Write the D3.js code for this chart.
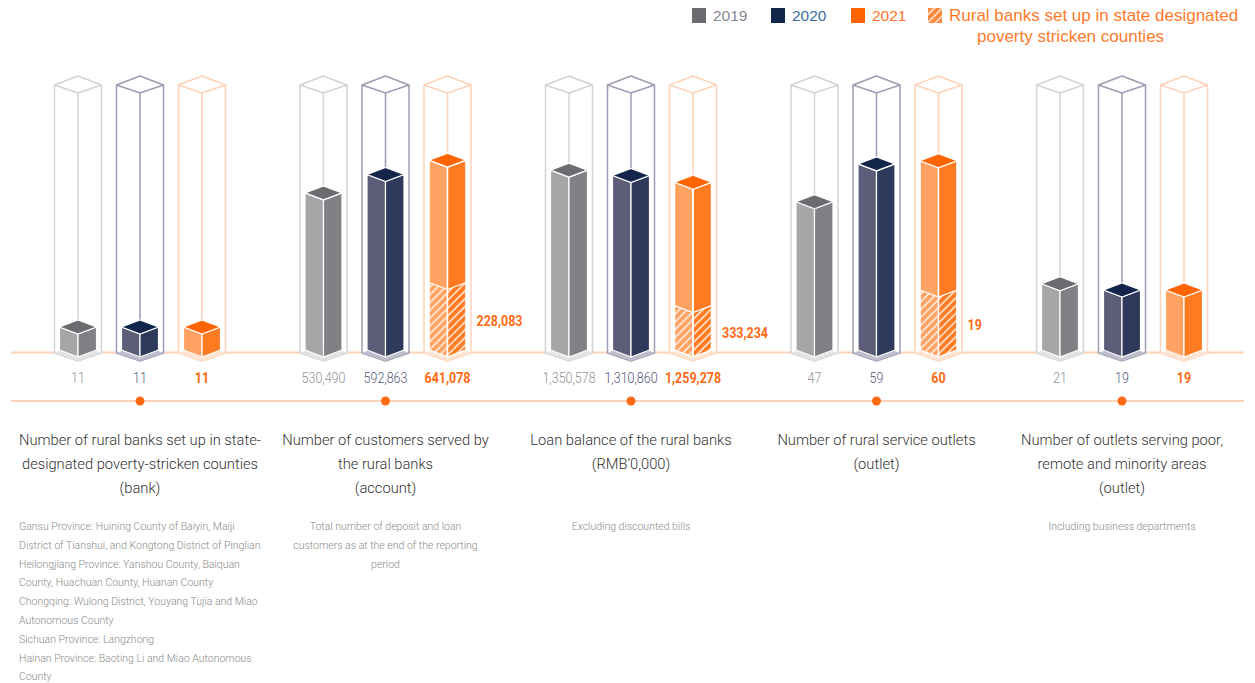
<!DOCTYPE html>
<html>
<head>
<meta charset="utf-8">
<script src="https://cdn.jsdelivr.net/npm/d3@7"></script>
<style>
  html, body { margin: 0; padding: 0; background: #fff; }
  svg { display: block; }
</style>
</head>
<body>
<svg id="chart" width="1255" height="683"></svg>
<script>
// ---- data ----
const categories = ["banks", "customers", "loans", "outlets", "remoteOutlets"];
const years = ["2019", "2020", "2021"];
const values2019 = [11, 530490, 1350578, 47, 21];
const values2020 = [11, 592863, 1310860, 59, 19];
const values2021 = [11, 641078, 1259278, 60, 19];
// 2021 portion from rural banks in state-designated poverty-stricken counties
const hatched2021 = [null, 228083, 333234, 19, null];
// top of each group's outline prism (per-metric scale ceiling)
const scaleMax = [127, 895000, 1990000, 84, 84];

const titleLines = [
  ["Number of rural banks set up in state-", "designated poverty-stricken counties", "(bank)"],
  ["Number of customers served by", "the rural banks", "(account)"],
  ["Loan balance of the rural banks", "(RMB\u20190,000)"],
  ["Number of rural service outlets", "(outlet)"],
  ["Number of outlets serving poor,", "remote and minority areas", "(outlet)"]
];
const noteLines = [
  ["Gansu Province: Huining County of Baiyin, Maiji",
   "District of Tianshui, and Kongtong District of Pinglian",
   "Heilongjiang Province: Yanshou County, Baiquan",
   "County, Huachuan County, Huanan County",
   "Chongqing: Wulong District, Youyang Tujia and Miao",
   "Autonomous County",
   "Sichuan Province: Langzhong",
   "Hainan Province: Baoting Li and Miao Autonomous",
   "County"],
  ["Total number of deposit and loan", "customers as at the end of the reporting", "period"],
  ["Excluding discounted bills"],
  [],
  ["Including business departments"]
];
const legendLabels = ["2019", "2020", "2021", "Rural banks set up in state designated", "poverty stricken counties"];

// ---- styles ----
const yearStyle = {
  "2019": { left: "#a6a6a9", right: "#818185", top: "#6b6b70", frame: "#d3d3d5", base: "#e3e3e5", label: "#939396", legendText: "#8a8a8d", swatch: "#6b6b70", bold: false },
  "2020": { left: "#5d5d79", right: "#2e3a5b", top: "#13254b", frame: "#9c9cb2", base: "#bdbdcc", label: "#55587a", legendText: "#3d6f9d", swatch: "#13254b", bold: false },
  "2021": { left: "#ffa262", right: "#ff7b21", top: "#ff6400", frame: "#ffd3b8", base: "#ffe4d1", label: "#ff6a13", legendText: "#ff7424", swatch: "#ff6400", bold: true }
};
const orange = "#ff6a13";
const lineColor = "#ffd3b7";
const numFont = "Roboto, 'Liberation Sans', sans-serif";
const textFont = "'Liberation Sans', Arial, sans-serif";

const svg = d3.select("#chart");
const defs = svg.append("defs");
const hatch = defs.append("pattern")
  .attr("id", "hatch")
  .attr("patternUnits", "userSpaceOnUse")
  .attr("width", 5.5).attr("height", 5.5)
  .attr("patternTransform", "rotate(45)");
hatch.append("line")
  .attr("x1", 1).attr("y1", 0).attr("x2", 1).attr("y2", 5.5)
  .attr("stroke", "#fff").attr("stroke-width", 1.3);

// ---- scales ----
const baseY = 350;       // bottom side corners of the solid bars
const topY = 85;         // side corners of the outline prism top
const x = d3.scalePoint().domain(categories).range([140, 1122]);
const xYear = d3.scalePoint().domain(years).range([-62, 62]);
const yScales = scaleMax.map(m => d3.scaleLinear().domain([0, m]).range([baseY, topY]));

const barHalf = 18.5, barDy = 7;
const frameHalf = 23.5, frameDyUp = 9, frameDyDown = 8;

// ---- baselines ----
svg.append("line").attr("x1", 11).attr("x2", 1244).attr("y1", 352.5).attr("y2", 352.5)
  .attr("stroke", lineColor).attr("stroke-width", 2);
svg.append("line").attr("x1", 11).attr("x2", 1244).attr("y1", 401).attr("y2", 401)
  .attr("stroke", lineColor).attr("stroke-width", 2);

const seriesValues = { "2019": values2019, "2020": values2020, "2021": values2021 };
const fmt = d3.format(",");
const poly = pts => "M" + pts.map(p => p.join(",")).join("L") + "Z";

// condensed numeral label
function numLabel(sel, px, py, anchor, weight, color, str) {
  return sel.append("text")
    .attr("transform", `translate(${px},${py}) scale(0.86,1)`)
    .attr("text-anchor", anchor)
    .attr("font-family", numFont)
    .attr("font-size", 14.5).attr("font-weight", weight)
    .attr("fill", color)
    .text(str);
}

categories.forEach((cat, gi) => {
  const gx = x(cat);
  const y = yScales[gi];
  const g = svg.append("g").attr("class", "group");

  years.forEach(yr => {
    const st = yearStyle[yr];
    const cx = gx + xYear(yr);
    const v = seriesValues[yr][gi];
    const fb = y(0) + 3;            // outline prism bottom side corners
    const ft = y(scaleMax[gi]);     // outline prism top side corners

    // outline prism (white body)
    g.append("path")
      .attr("d", poly([[cx - frameHalf, ft], [cx, ft - frameDyUp], [cx + frameHalf, ft], [cx + frameHalf, fb], [cx, fb + frameDyDown], [cx - frameHalf, fb]]))
      .attr("fill", "#fff").attr("stroke", st.frame).attr("stroke-width", 1.5).attr("stroke-linejoin", "round");
    g.append("path")
      .attr("d", `M${cx - frameHalf},${ft}L${cx},${ft + frameDyDown}L${cx + frameHalf},${ft}M${cx},${ft + frameDyDown}L${cx},${fb}`)
      .attr("fill", "none").attr("stroke", st.frame).attr("stroke-width", 1.5);
    // shaded floor of the prism
    g.append("path")
      .attr("d", poly([[cx - frameHalf, fb], [cx, fb - frameDyUp], [cx + frameHalf, fb], [cx, fb + frameDyDown]]))
      .attr("fill", st.base);

    // solid bar
    const t = y(v);
    const b = y(0);
    const leftFace = [[cx - barHalf, t], [cx, t + barDy], [cx, b + barDy], [cx - barHalf, b]];
    const rightFace = [[cx, t + barDy], [cx + barHalf, t], [cx + barHalf, b], [cx, b + barDy]];
    const topFace = [[cx - barHalf, t], [cx, t - barDy], [cx + barHalf, t], [cx, t + barDy]];
    g.append("path").attr("d", poly(leftFace)).attr("fill", st.left).attr("stroke", "#fff").attr("stroke-width", 1.2).attr("stroke-linejoin", "round");
    g.append("path").attr("d", poly(rightFace)).attr("fill", st.right).attr("stroke", "#fff").attr("stroke-width", 1.2).attr("stroke-linejoin", "round");

    // hatched share of the 2021 bar
    if (yr === "2021" && hatched2021[gi] != null) {
      const h = y(hatched2021[gi]);
      const hl = [[cx - barHalf, h], [cx, h + barDy], [cx, b + barDy], [cx - barHalf, b]];
      const hr = [[cx, h + barDy], [cx + barHalf, h], [cx + barHalf, b], [cx, b + barDy]];
      g.append("path").attr("d", poly(hl)).attr("fill", "url(#hatch)");
      g.append("path").attr("d", poly(hr)).attr("fill", "url(#hatch)");
      g.append("path").attr("d", `M${cx - barHalf},${h}L${cx},${h + barDy}L${cx + barHalf},${h}`)
        .attr("fill", "none").attr("stroke", "#fff").attr("stroke-width", 1.2);
      g.append("path").attr("d", poly(leftFace)).attr("fill", "none").attr("stroke", "#fff").attr("stroke-width", 1.2);
      g.append("path").attr("d", poly(rightFace)).attr("fill", "none").attr("stroke", "#fff").attr("stroke-width", 1.2);
      numLabel(g, cx + 29, (h + b) / 2 + 10, "start", 700, orange, fmt(hatched2021[gi]));
    }
    g.append("path").attr("d", poly(topFace)).attr("fill", st.top).attr("stroke", "#fff").attr("stroke-width", 1.2).attr("stroke-linejoin", "round");

    // value label
    numLabel(g, cx, 383, "middle", st.bold ? 700 : 300, st.label, fmt(v));
  });

  // marker on the lower rule
  g.append("circle").attr("cx", gx).attr("cy", 401).attr("r", 4.5).attr("fill", orange);

  // category title
  const title = g.append("text")
    .attr("text-anchor", "middle")
    .attr("font-family", numFont)
    .attr("font-weight", 300).attr("font-size", 14.7).attr("fill", "#333");
  titleLines[gi].forEach((ln, i) => {
    title.append("tspan").attr("x", gx).attr("y", 445 + i * 24).text(ln);
  });

  // notes
  const leftAligned = gi === 0;
  const note = g.append("text")
    .attr("text-anchor", leftAligned ? "start" : "middle")
    .attr("font-family", numFont)
    .attr("font-weight", 300).attr("font-size", 10.5).attr("fill", "#8a8a8a");
  noteLines[gi].forEach((ln, i) => {
    note.append("tspan").attr("x", leftAligned ? 19 : gx).attr("y", 530 + i * 18.8).text(ln);
  });
});

// ---- legend ----
const legend = svg.append("g").attr("class", "legend")
  .attr("font-family", textFont)
  .attr("font-size", 15.5);
const legendX = [692, 771, 851];
years.forEach((yr, i) => {
  legend.append("rect").attr("x", legendX[i]).attr("y", 8).attr("width", 14).attr("height", 15)
    .attr("fill", yearStyle[yr].swatch);
  legend.append("text").attr("x", legendX[i] + 21).attr("y", 21)
    .attr("fill", yearStyle[yr].legendText).text(legendLabels[i]);
});
legend.append("rect").attr("x", 928).attr("y", 8).attr("width", 14).attr("height", 15).attr("fill", "#ff8838");
legend.append("rect").attr("x", 928).attr("y", 8).attr("width", 14).attr("height", 15).attr("fill", "url(#hatch)");
legend.append("text").attr("x", 949).attr("y", 21).attr("font-size", 17).attr("fill", "#ff7a2c").text(legendLabels[3]);
legend.append("text").attr("x", 977).attr("y", 42).attr("font-size", 17).attr("fill", "#ff7a2c").text(legendLabels[4]);
</script>
</body>
</html>
